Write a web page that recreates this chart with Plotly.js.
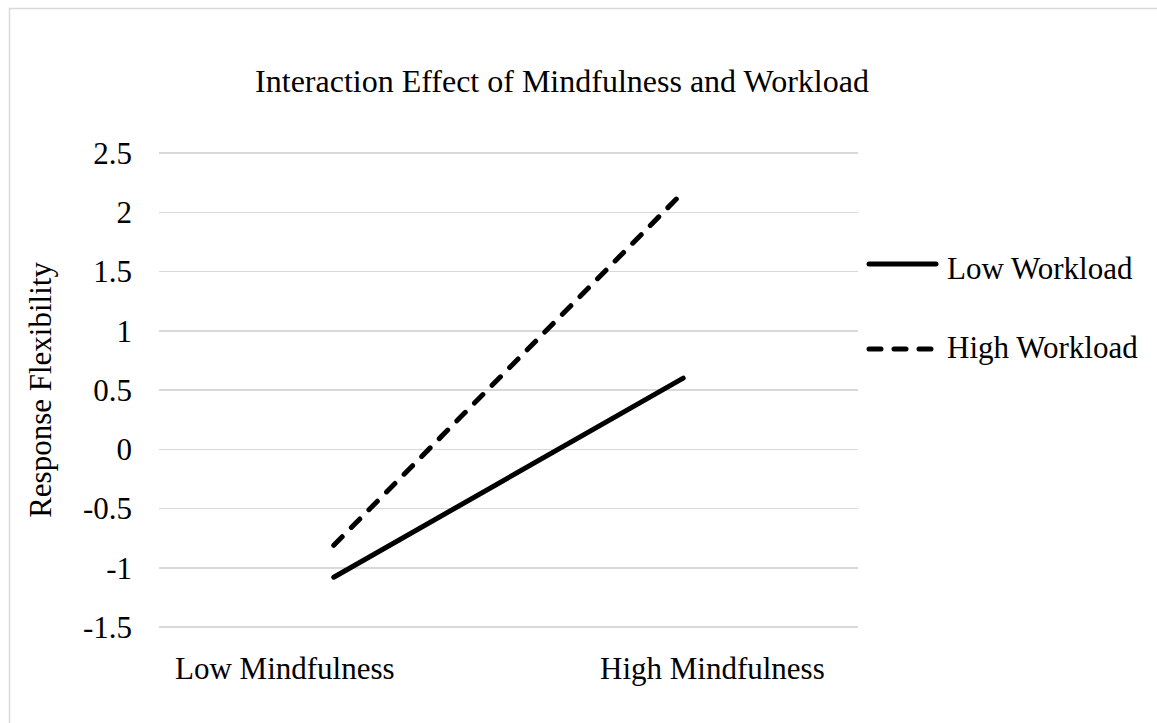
<!DOCTYPE html>
<html>
<head>
<meta charset="utf-8">
<script src="https://cdn.plot.ly/plotly-3.0.1.min.js"></script>
<style>
html,body{margin:0;padding:0;background:#fff;}
#chart{width:1157px;height:723px;}
#chart .scatterlayer path.js-line, #chart .shapelayer path{stroke-linecap:round;}
</style>
</head>
<body>
<div id="chart"></div>
<script>
// Data
const categories = ["Low Mindfulness", "High Mindfulness"];
const seriesNames = ["Low Workload", "High Workload"];
const lowWorkload = [-1.08, 0.60];
const highWorkload = [-0.81, 2.17];
const yTickVals = [-1.5, -1, -0.5, 0, 0.5, 1, 1.5, 2, 2.5];
const yTickText = ["-1.5", "-1", "-0.5", "0", "0.5", "1", "1.5", "2", "2.5"];
const chartTitle = "Interaction Effect of Mindfulness and Workload";
const yTitle = "Response Flexibility";

const FONT = "Liberation Serif, Times New Roman, serif";
const W = 1157, H = 723;
const L = 159, R = 858, T = 150, B = 630;
const pad = 3 / 118.5;
const px = v => (v - L) / (R - L);
const py = v => (B - v) / (B - T);

const dashStyle = "12px,13px";

const traces = [
  {x: categories, y: lowWorkload, name: seriesNames[0], type: "scatter", mode: "lines",
   line: {color: "#000000", width: 5}, showlegend: false},
  {x: categories, y: highWorkload, name: seriesNames[1], type: "scatter", mode: "lines",
   line: {color: "#000000", width: 5, dash: dashStyle}, showlegend: false}
];

const legendRows = [
  {lineY: 264, textY: 268, dash: "solid"},
  {lineY: 349, textY: 347, dash: dashStyle}
];

const shapes = [
  {type: "rect", xref: "paper", yref: "paper",
   x0: px(9.5), x1: px(1170), y0: py(740), y1: py(8.5),
   line: {color: "#d9d9d9", width: 1.5}, fillcolor: "rgba(0,0,0,0)", layer: "below"}
];
const annotations = [];
legendRows.forEach((r, i) => {
  shapes.push({type: "line", xref: "paper", yref: "paper",
    x0: px(869), x1: px(936), y0: py(r.lineY), y1: py(r.lineY),
    line: {color: "#000000", width: 5, dash: r.dash}});
  annotations.push({xref: "paper", yref: "paper", x: px(945), y: py(r.textY),
    xanchor: "left", yanchor: "middle", showarrow: false, text: seriesNames[i],
    font: {family: FONT, size: 31, color: "#000000"}});
});
const catLabelX = [285, 712];
categories.forEach((c, i) => {
  annotations.push({xref: "paper", yref: "paper", x: px(catLabelX[i]), y: py(668),
    xanchor: "center", yanchor: "middle", showarrow: false, text: c,
    font: {family: FONT, size: 31, color: "#000000"}});
});

const layout = {
  width: W, height: H,
  margin: {l: L, r: W - R, t: T, b: H - B, pad: 0},
  paper_bgcolor: "#ffffff", plot_bgcolor: "#ffffff",
  font: {family: FONT, size: 31, color: "#000000"},
  title: {text: chartTitle, x: 562 / W, xref: "container", xanchor: "center",
          y: 1 - 81 / H, yref: "container", yanchor: "middle",
          font: {family: FONT, size: 32, color: "#000000"}},
  xaxis: {type: "category", range: [-0.5, 1.5], showgrid: false, zeroline: false,
          showline: false, showticklabels: false, ticks: "", fixedrange: true},
  yaxis: {range: [-1.5 - pad, 2.5 + pad], tickvals: yTickVals, ticktext: yTickText,
          showgrid: true, gridcolor: "#d9d9d9", gridwidth: 1.5, zeroline: false,
          showline: false, ticks: "", ticklabelstandoff: 26,
          tickfont: {family: FONT, size: 31, color: "#000000"},
          title: {text: yTitle, standoff: 22, font: {family: FONT, size: 31, color: "#000000"}}},
  shapes: shapes,
  annotations: annotations,
  showlegend: false
};

Plotly.newPlot("chart", traces, layout, {displayModeBar: false, staticPlot: true});
</script>
</body>
</html>
